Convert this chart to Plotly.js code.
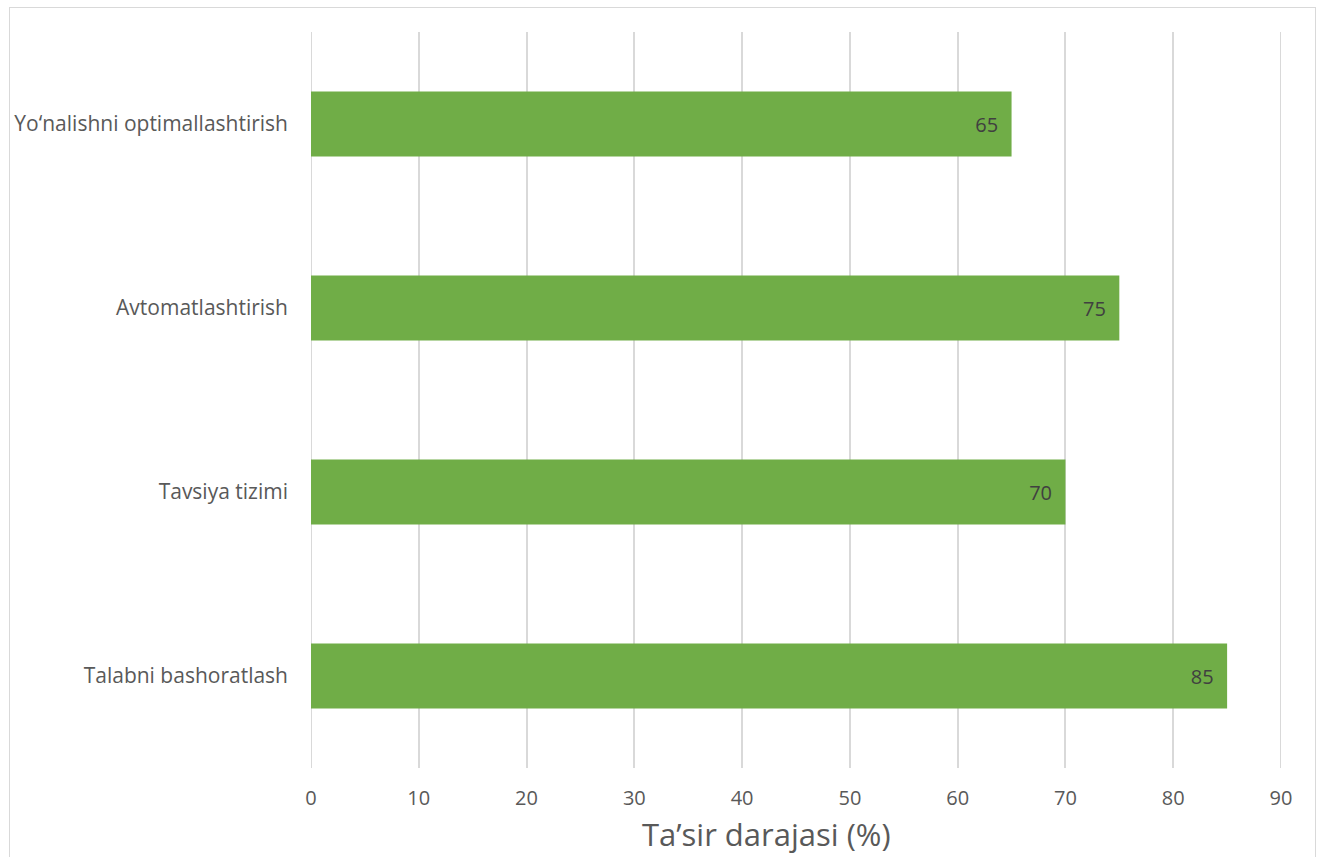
<!DOCTYPE html>
<html><head><meta charset="utf-8">
<script src="https://cdn.plot.ly/plotly-3.0.1.min.js"></script>
<style>html,body{margin:0;padding:0;background:#fff;}#frame{position:absolute;left:9px;top:7px;width:1307px;height:852px;border:1px solid #d9d9d9;box-sizing:border-box;pointer-events:none;}</style>
</head><body>
<div id="chart" style="width:1320px;height:857px;"></div>
<div id="frame"></div>
<script>
const categories = ["Talabni bashoratlash", "Tavsiya tizimi", "Avtomatlashtirish", "Yo\u2018nalishni optimallashtirish"];
const values = [85, 70, 75, 65];
const xTicks = [0, 10, 20, 30, 40, 50, 60, 70, 80, 90];
const xTitle = "Ta\u2019sir darajasi (%)";

const font = "Open Sans, Lato, sans-serif";
const edgeLines = [xTicks[0], xTicks[xTicks.length - 1]].map(v => ({
  type: "line", xref: "x", yref: "paper", x0: v, x1: v, y0: 0, y1: 1,
  line: {color: "#d9d9d9", width: 2}, layer: "below"
}));
Plotly.newPlot("chart", [{
  type: "bar", orientation: "h",
  y: categories, x: values,
  marker: {color: "#70AD47"},
  text: values.map(v => v + "\u00a0\u00a0"),
  textposition: "inside", insidetextanchor: "end",
  textfont: {family: font, size: 20, color: "#404040"},
  cliponaxis: false,
  hoverinfo: "none"
}], {
  width: 1320, height: 857,
  margin: {l: 311, r: 39, t: 32, b: 89},
  paper_bgcolor: "#fff", plot_bgcolor: "#fff",
  bargap: 0.647,
  showlegend: false,
  shapes: edgeLines,
  xaxis: {
    range: [xTicks[0], xTicks[xTicks.length - 1]], tickvals: xTicks, ticktext: xTicks.map(String),
    showgrid: true, gridcolor: "#d9d9d9", gridwidth: 2,
    zeroline: false, showline: false, ticks: "",
    ticklabelstandoff: 16,
    tickfont: {family: font, size: 20, color: "#595959"},
    fixedrange: true
  },
  yaxis: {
    type: "category", categoryorder: "array", categoryarray: categories,
    showgrid: false, zeroline: false, showline: false, ticks: "",
    ticklabelstandoff: 22,
    tickfont: {family: font, size: 21, color: "#595959"},
    fixedrange: true
  },
  annotations: [{
    text: xTitle, xref: "paper", yref: "paper",
    x: (766 - 311) / 970, y: -(834 - 768) / 736,
    xanchor: "center", yanchor: "middle", showarrow: false,
    font: {family: font, size: 31, color: "#595959"}
  }]
}, {displayModeBar: false, staticPlot: true});
</script>
</body></html>
